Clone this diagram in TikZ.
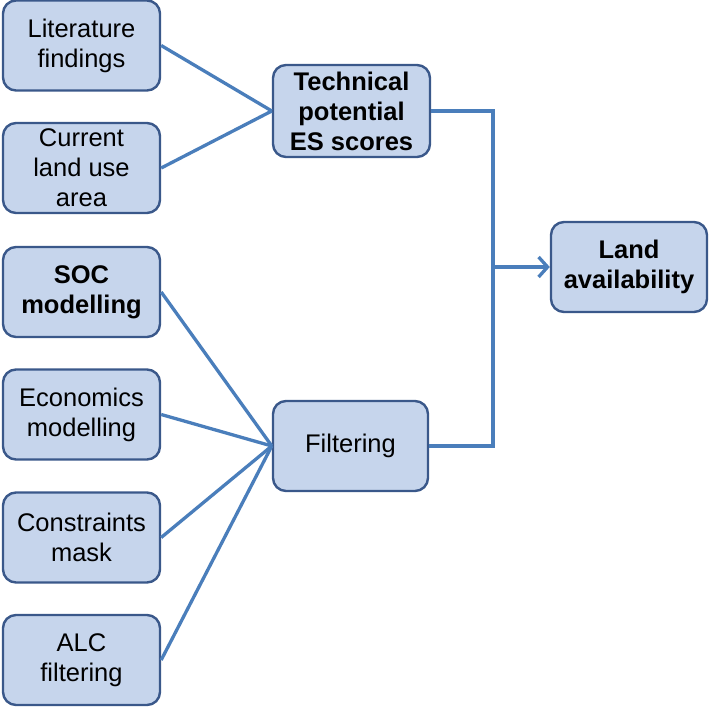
\documentclass[tikz,border=0pt]{standalone}
\usepackage{fontspec}
\setmainfont{Liberation Sans}
\usetikzlibrary{arrows.meta}
\definecolor{boxfill}{RGB}{198,213,236}
\definecolor{boxdraw}{RGB}{58,88,138}
\definecolor{linecol}{RGB}{74,126,187}
\begin{document}
\begin{tikzpicture}[x=1pt,y=-1pt,
  box/.style={draw=boxdraw,fill=boxfill,line width=2.4pt,rounded corners=13pt,
    minimum width=157pt,minimum height=90pt,inner sep=0pt,align=center,
    font=\fontsize{25.5}{30}\selectfont},
  bbox/.style={box,font=\fontsize{25.5}{30}\selectfont\bfseries},
  conn/.style={draw=linecol,line width=3.3pt}]
\path[use as bounding box] (0,0) rectangle (709,708);
\node[box] (lit) at (81.5,45.5) {Literature\\findings};
\node[box] (cur) at (81.5,168) {Current\\land use\\area};
\node[bbox] (soc) at (81.5,292) {SOC\\modelling};
\node[box] (eco) at (81.5,414.5) {Economics\\modelling};
\node[box] (con) at (81.5,537.5) {Constraints\\mask};
\node[box] (alc) at (81.5,660) {ALC\\filtering};
\node[bbox,minimum height=92pt] (tech) at (351.5,111) {Technical\\potential\\ES scores};
\node[box,minimum width=155pt] (filt) at (350.5,446) {Filtering};
\node[bbox,minimum width=156pt] (land) at (629,267) {Land\\availability};
\coordinate (j) at (493,267);
\draw[conn] (lit.east) -- (tech.west);
\draw[conn] (cur.east) -- (tech.west);
\draw[conn] (soc.east) -- (filt.west);
\draw[conn] (eco.east) -- (filt.west);
\draw[conn] (con.east) -- (filt.west);
\draw[conn] (alc.east) -- (filt.west);
\draw[conn] (tech.east) -- (tech.east -| j) -- (filt.east -| j) -- (filt.east);
\draw[conn,-{Straight Barb[length=9pt,width=20pt,line width=3.3pt]}] (j) -- (land.west);
\end{tikzpicture}
\end{document}
